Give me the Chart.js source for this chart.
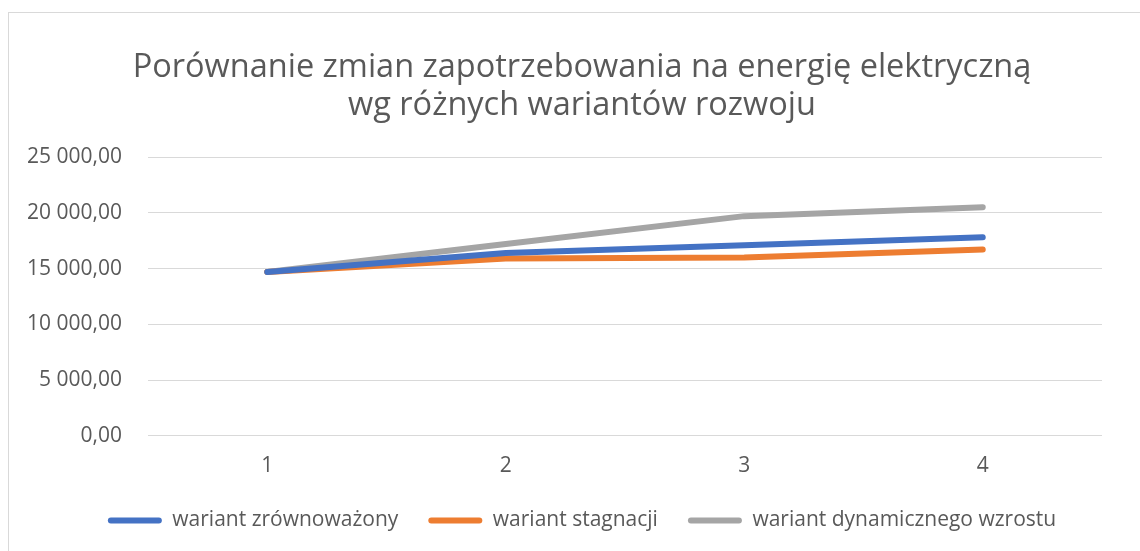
<!DOCTYPE html>
<html>
<head>
<meta charset="utf-8">
<script src="https://cdn.jsdelivr.net/npm/chart.js@4.4.0/dist/chart.umd.min.js"></script>
<style>
html,body{margin:0;padding:0;background:#fff;}
#wrap{position:relative;width:1140px;height:551px;}
</style>
</head>
<body>
<div id="wrap"><canvas id="c" width="1140" height="551"></canvas></div>
<script>
const categories = ['1', '2', '3', '4'];
const zrownowazony = [14700, 16400, 17100, 17800];
const stagnacji = [14700, 15900, 16000, 16700];
const dynamiczny = [14700, 17200, 19700, 20500];
const seriesNames = ['wariant zrównoważony', 'wariant stagnacji', 'wariant dynamicznego wzrostu'];
const titleLines = ['Porównanie zmian zapotrzebowania na energię elektryczną', 'wg różnych wariantów rozwoju'];
const yTicks = [0, 5000, 10000, 15000, 20000, 25000];

const FONT = "'Open Sans', sans-serif";
const colors = ['#4472C4', '#ED7D31', '#A5A5A5'];

function fmt(v){
  const s = Math.round(v).toString().replace(/\B(?=(\d{3})+(?!\d))/g, ' ');
  return s + ',00';
}

const borderPlugin = {
  id: 'frame',
  beforeDraw(chart){
    const ctx = chart.ctx;
    ctx.save();
    ctx.fillStyle = '#fff';
    ctx.fillRect(0,0,chart.width,chart.height);
    ctx.strokeStyle = '#d9d9d9';
    ctx.lineWidth = 1;
    ctx.strokeRect(8.5, 12.5, 1200, 600);
    ctx.restore();
  }
};

const mk = (label, data, color) => ({
  label, data, borderColor: color, backgroundColor: color,
  borderWidth: 6, pointRadius: 0, pointHoverRadius: 0, tension: 0,
  borderCapStyle: 'round', borderJoinStyle: 'round', fill: false
});

new Chart(document.getElementById('c'), {
  type: 'line',
  data: {
    labels: categories,
    datasets: [
      mk(seriesNames[0], zrownowazony, colors[0]),
      mk(seriesNames[1], stagnacji, colors[1]),
      mk(seriesNames[2], dynamiczny, colors[2])
    ]
  },
  plugins: [borderPlugin],
  options: {
    responsive: false,
    animation: false,
    layout: { padding: { left: 24, right: 0, top: 0, bottom: 10 } },
    plugins: {
      tooltip: { enabled: false },
      title: {
        display: true,
        text: titleLines,
        color: '#595959',
        font: { family: FONT, size: 32.5, weight: 'normal', lineHeight: 1.17 },
        padding: { top: 49, bottom: 32 }
      },
      legend: {
        position: 'bottom',
        labels: {
          color: '#595959',
          font: { family: FONT, size: 21 },
          boxWidth: 54,
          boxHeight: 6,
          padding: 30,
          generateLabels(chart){
            return chart.data.datasets.map((d,i)=>({
              text: d.label, fillStyle: d.borderColor, strokeStyle: d.borderColor,
              lineWidth: 0, hidden: false, datasetIndex: i, borderRadius: 3, fontColor: '#595959'
            }));
          }
        }
      }
    },
    scales: {
      x: {
        offset: true,
        grid: { display: false, drawTicks: false },
        border: { display: false },
        ticks: { color: '#595959', font: { family: FONT, size: 21 }, padding: 18 },
        afterFit(s){ s.height = s.height - 17; }
      },
      y: {
        min: 0, max: 25000,
        afterBuildTicks(s){ s.ticks = yTicks.map(v=>({value:v})); },
        grid: { color: '#d9d9d9', lineWidth: 1, drawTicks: false },
        border: { display: false },
        ticks: { color: '#595959', font: { family: FONT, size: 21 }, padding: 26, callback: v => fmt(v) },
        afterFit(s){ s.width = 124; }
      },
      yR: {
        position: 'right',
        display: true,
        grid: { display: false, drawTicks: false },
        border: { display: false },
        ticks: { display: false },
        afterFit(s){ s.width = 38; }
      }
    }
  }
});
</script>
</body>
</html>
